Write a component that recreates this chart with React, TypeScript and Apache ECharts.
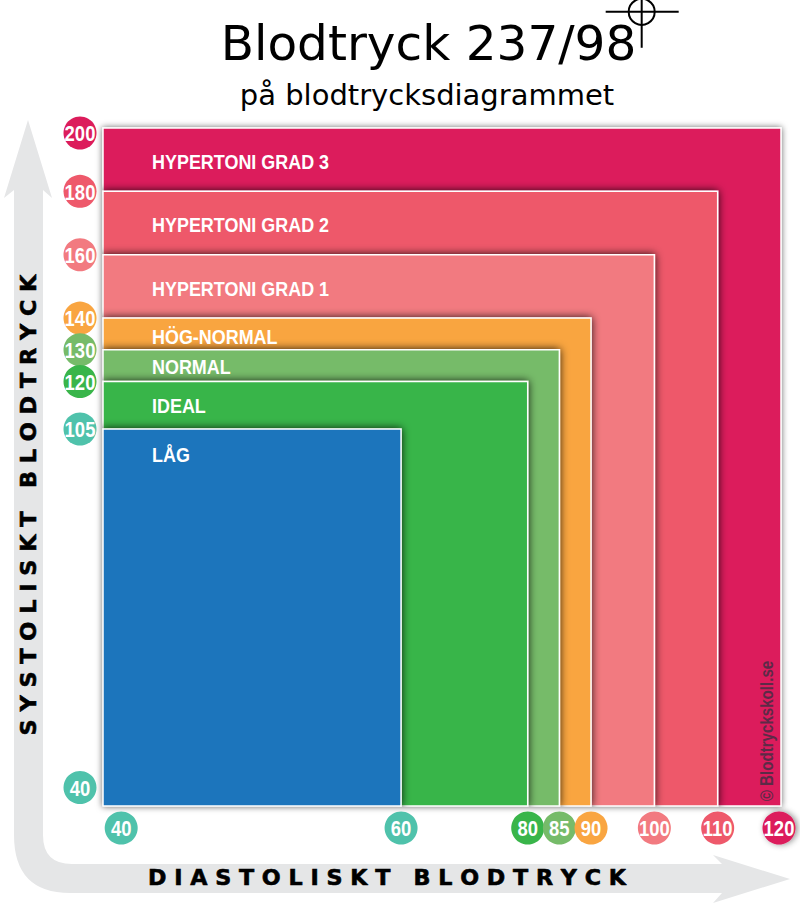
import React, { useEffect, useRef } from "react";
import * as echarts from "echarts";

// ---- data ----
const zoneNames = ["HYPERTONI GRAD 3", "HYPERTONI GRAD 2", "HYPERTONI GRAD 1", "HÖG-NORMAL", "NORMAL", "IDEAL", "LÅG"];
const zoneDiastolic = [120, 110, 100, 90, 85, 80, 60];
const zoneSystolic = [200, 180, 160, 140, 130, 120, 105];
const diastolicTicks = [40, 60, 80, 85, 90, 100, 110, 120];
const systolicTicks = [200, 180, 160, 140, 130, 120, 105, 40];
const reading = [98, 237];

// ---- styles ----
const CRIMSON = "#dc1c5b";
const ROSE = "#ee596b";
const PINK = "#f27a80";
const ORANGE = "#f9a541";
const LEAF = "#76bb69";
const GREEN = "#39b54a";
const BLUE = "#1b75bc";
const TEAL = "#4fc2ab";
const zoneColors = [CRIMSON, ROSE, PINK, ORANGE, LEAF, GREEN, BLUE];
const diastolicColors = [TEAL, TEAL, GREEN, LEAF, ORANGE, PINK, ROSE, CRIMSON];
const systolicColors = [CRIMSON, ROSE, PINK, ORANGE, LEAF, GREEN, TEAL, TEAL];
const zoneLabelOffsets = [33.5, 33.5, 34, 18, 17, 24, 25];
const ARIAL = '"Liberation Sans", sans-serif';
const SANS = '"DejaVu Sans", sans-serif';

// The chart's low end is stretched: below 60 / 105 the axes use their own scale.
const LOW_X = 2.21;
const LOW_Y = 1.741;
const toX = (v: number) => (v >= 60 ? v : 60 + (v - 60) * LOW_X);
const toY = (v: number) => (v >= 105 ? v : 105 + (v - 105) * LOW_Y);
const X_FLOOR = 38.7;
const Y_FLOOR = 36.65;

const GRID = { left: 103, top: 128, width: 678, height: 678 };
const ARROW =
  "M28 120 L52 198 L43 190 L43 835 Q43 864 72 864 L722 864 L713 855 L790 879 L713 903 L722 893 L70 893 Q14 893 14 835 L14 190 L4 198 Z";

export default function App() {
  const ref = useRef<HTMLDivElement>(null);
  useEffect(() => {
    if (!ref.current) return;
    echarts.graphic.registerShape("bpArrow", echarts.graphic.extendPath(ARROW as any, {}) as any);
    const chart = echarts.init(ref.current, undefined, { renderer: "svg" });
    const xMin = toX(X_FLOOR);
    const yMin = toY(Y_FLOOR);

    const tick = (cx: number, cy: number, v: number, fill: string, shadow = false) => ({
      type: "group",
      children: [
        {
          type: "circle",
          shape: { cx, cy, r: 16.5 },
          style: {
            fill,
            ...(shadow ? { shadowBlur: 6, shadowColor: "rgba(0,0,0,0.45)", shadowOffsetX: 2 } : {}),
          },
        },
        {
          type: "text",
          x: cx,
          y: cy,
          scaleX: 0.82,
          style: {
            text: String(v), align: "center", verticalAlign: "middle",
            fill: "#fff", fontFamily: ARIAL, fontWeight: "bold", fontSize: 22.5,
          },
        },
      ],
    });

    const axisTitle = {
      align: "center", verticalAlign: "middle", fill: "#000", stroke: "#000", lineWidth: 0.6,
      fontFamily: SANS, fontWeight: "bold", fontSize: 21,
    };

    chart.setOption({
      animation: false,
      title: [
        {
          text: "Blodtryck 237/98", left: 423.5, top: 13, textAlign: "center",
          textStyle: { fontFamily: SANS, fontWeight: "normal", fontSize: 48.5, color: "#000" },
        },
        {
          text: "på blodtrycksdiagrammet", left: 422, top: 75, textAlign: "center",
          textStyle: { fontFamily: SANS, fontWeight: "normal", fontSize: 29, color: "#000" },
        },
      ],
      grid: { ...GRID, containLabel: false },
      xAxis: { type: "value", min: xMin, max: 120, show: false, splitLine: { show: false } },
      yAxis: { type: "value", min: yMin, max: 200, show: false, splitLine: { show: false } },
      graphic: [
        { type: "bpArrow", x: 0, y: 0, z: -1, style: { fill: "#e5e6e7" } },
        {
          type: "text", x: 387, y: 878, scaleX: 1.06, z: 5,
          style: { text: "D I A S T O L I S K T   B L O D T R Y C K", ...axisTitle },
        },
        {
          type: "text", x: 29, y: 505, rotation: Math.PI / 2, scaleX: 1.065, z: 5,
          style: { text: "S Y S T O L I S K T   B L O D T R Y C K", ...axisTitle },
        },
        {
          type: "text", x: 767, y: 731, rotation: Math.PI / 2, scaleX: 0.84, z: 20,
          style: {
            text: "© Blodtryckskoll.se", align: "center", verticalAlign: "middle",
            fill: "#5d2a47", fontFamily: ARIAL, fontWeight: "bold", fontSize: 18,
          },
        },
      ],
      series: [
        {
          type: "custom", coordinateSystem: "cartesian2d", z: 2,
          data: zoneNames.map((_, i) => [toX(zoneDiastolic[i]), zoneSystolic[i]]),
          renderItem: (params: any, api: any) => {
            const [x1, y1] = api.coord([api.value(0), api.value(1)]);
            const [x0, y0] = api.coord([xMin, yMin]);
            const outer = params.dataIndex === 0;
            return {
              type: "rect",
              shape: { x: x0, y: y1, width: x1 - x0, height: y0 - y1 },
              style: {
                fill: zoneColors[params.dataIndex], stroke: "#fff", lineWidth: 1.5,
                shadowBlur: outer ? 6 : 8,
                shadowColor: outer ? "rgba(0,0,0,0.6)" : "rgba(0,0,0,0.85)",
              },
              ...(outer
                ? {}
                : { clipPath: { type: "rect", shape: { x: x0 - 1, y: GRID.top, width: GRID.width + 1, height: y0 - GRID.top + 1 } } }),
            };
          },
        },
        {
          type: "custom", coordinateSystem: "cartesian2d", z: 3,
          data: zoneNames.map((_, i) => [xMin, zoneSystolic[i]]),
          renderItem: (params: any, api: any) => {
            const [x, y] = api.coord([api.value(0), api.value(1)]);
            return {
              type: "text",
              x: x + 49,
              y: y + zoneLabelOffsets[params.dataIndex],
              scaleX: 0.855,
              style: {
                text: zoneNames[params.dataIndex],
                verticalAlign: "middle", fill: "#fff", fontFamily: ARIAL, fontWeight: "bold", fontSize: 21,
              },
            };
          },
        },
        {
          type: "custom", coordinateSystem: "cartesian2d", z: 4,
          data: diastolicTicks.map((v) => [toX(v), yMin, v]),
          renderItem: (params: any, api: any) => {
            const [x, y] = api.coord([api.value(0), api.value(1)]);
            const v = api.value(2);
            return tick(Math.min(x, GRID.left + GRID.width - 2), y + 22, v, diastolicColors[params.dataIndex], v === 120);
          },
        },
        {
          type: "custom", coordinateSystem: "cartesian2d", z: 4,
          data: systolicTicks.map((v) => [xMin, toY(v), v]),
          renderItem: (params: any, api: any) => {
            const [x, y] = api.coord([api.value(0), api.value(1)]);
            return tick(x - 23, Math.max(y, GRID.top + 5), api.value(2), systolicColors[params.dataIndex]);
          },
        },
        {
          type: "custom", coordinateSystem: "cartesian2d", z: 6,
          data: [reading],
          renderItem: (_: any, api: any) => {
            const [x, y] = api.coord([api.value(0), api.value(1)]);
            const line = { stroke: "#000", lineWidth: 2 };
            return {
              type: "group",
              children: [
                { type: "line", shape: { x1: x - 36, y1: y + 1, x2: x + 37, y2: y + 1 }, style: line },
                { type: "line", shape: { x1: x, y1: y - 12, x2: x, y2: y + 37 }, style: line },
                { type: "circle", shape: { cx: x, cy: y + 1, r: 13 }, style: { fill: "none", ...line } },
              ],
            };
          },
        },
      ],
    });
    return () => chart.dispose();
  }, []);
  return <div ref={ref} style={{ position: "absolute", left: 0, top: 0, width: 800, height: 908 }} />;
}
